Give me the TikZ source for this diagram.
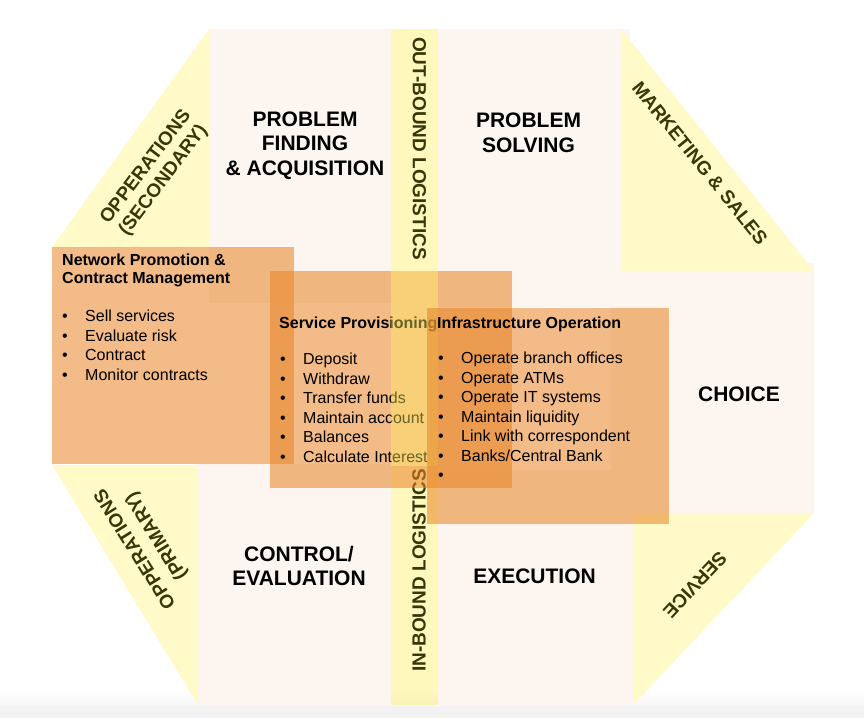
\documentclass[tikz,border=0pt]{standalone}
\usepackage{fontspec}
\setmainfont{Liberation Sans}

\definecolor{pinkbg}{RGB}{253,245,239}
\definecolor{yellowbg}{RGB}{255,250,200}
\definecolor{stripyel}{RGB}{255,238,95}
\definecolor{boxorange}{RGB}{231,131,37}
\definecolor{olivetxt}{RGB}{55,55,10}

\newcommand{\blt}{\makebox[23pt][l]{\textbullet}}

\begin{document}
\begin{tikzpicture}[x=1pt,y=-1pt]
		\tikzset{phase/.style={font=\fontsize{21}{24.5}\selectfont\bfseries, align=center, inner sep=0pt},
			side/.style={font=\fontsize{19}{22}\selectfont\bfseries, text=olivetxt, align=center, inner sep=0pt},
			boxhead/.style={font=\fontsize{16}{18}\selectfont\bfseries, align=left, anchor=north west, inner sep=0pt},
			boxlist/.style={font=\fontsize{16}{19.5}\selectfont, align=left, anchor=north west, inner sep=0pt},
			pinkrect/.style={fill=pinkbg},
			yeltri/.style={fill=yellowbg},
			strip/.style={fill=stripyel, fill opacity=0.42},
			orangebox/.style={fill=boxorange, fill opacity=0.55}};

		\useasboundingbox (0,0) rectangle (864,718);
		\shade[top color=white, bottom color=gray!7] (0,690) rectangle (864,706);
		\fill[gray!10] (0,706) rectangle (864,718);

		% phases
		\fill[pinkrect] (209,29) rectangle (391,303);
		\fill[pinkrect] (438,29) rectangle (630,307);
		\fill[pinkrect] (611,263) rectangle (814,513);
		\fill[pinkrect] (438,470) rectangle (633,705);
		\fill[pinkrect] (198,464) rectangle (391,705);

		% corners
		\fill[yeltri] (52,247) -- (209,29) -- (209,247) -- cycle;
		\fill[yeltri] (621,29) -- (814,271) -- (621,271) -- cycle;
		\fill[yeltri] (633,513) -- (814,513) -- (633,705) -- cycle;
		\fill[yeltri] (52,465) -- (198,465) -- (198,705) -- cycle;

		\node[side, rotate=53] (opsec) at (155,174) {OPPERATIONS\\(SECONDARY)};
		\node[side, rotate=-51] (mkt) at (700,163) {MARKETING \& SALES};
		\node[side, rotate=-133] (serv) at (695,585) {SERVICE};
		\node[side, rotate=122, font=\fontsize{19}{25}\selectfont\bfseries] (opprim) at (146.5,542) {OPPERATIONS\\(PRIMARY)};

		% lower strip
		\fill[strip] (391,466) rectangle (438,705);
		\node[side, rotate=90] (inlog) at (419,570.5) {IN-BOUND LOGISTICS};

		\node[phase] (find) at (305,145.5) {PROBLEM\\FINDING\\\& ACQUISITION};
		\node[phase] (solve) at (528.5,133) {PROBLEM\\SOLVING};
		\node[phase] (choice) at (739,394) {CHOICE};
		\node[phase] (exec) at (534.5,576.5) {EXECUTION};
		\node[phase] (control) at (299,566) {CONTROL/\\EVALUATION};

		% network promotion
		\fill[orangebox] (52,247) rectangle (294,464);
		\node[boxhead] (nethead) at (62,254) {Network Promotion \&\\Contract Management};
		\node[boxlist] (netlist) at (62,310) {\blt Sell services\\\blt Evaluate risk\\\blt Contract\\\blt Monitor contracts};

		% service provisioning
		\fill[orangebox] (270,271) rectangle (512,488);
		\node[boxhead] (provhead) at (279,317) {Service Provisioning};
		\node[boxlist] (provlist) at (280,353) {\blt Deposit\\\blt Withdraw\\\blt Transfer funds\\\blt Maintain account\\\blt Balances\\\blt Calculate Interest};

		% upper strip
		\fill[strip] (391,29) rectangle (438,466);
		\node[side, rotate=-90] (outlog) at (419.5,148.5) {OUT-BOUND LOGISTICS};

		% infrastructure
		\fill[orangebox] (427,308) rectangle (669,524);
		\node[boxhead] (infhead) at (437,317) {Infrastructure Operation};
		\node[boxlist] (inflist) at (438,352) {\blt Operate branch offices\\\blt Operate ATMs\\\blt Operate IT systems\\\blt Maintain liquidity\\\blt Link with correspondent\\\blt Banks/Central Bank\\\blt};
	\end{tikzpicture}
\end{document}
